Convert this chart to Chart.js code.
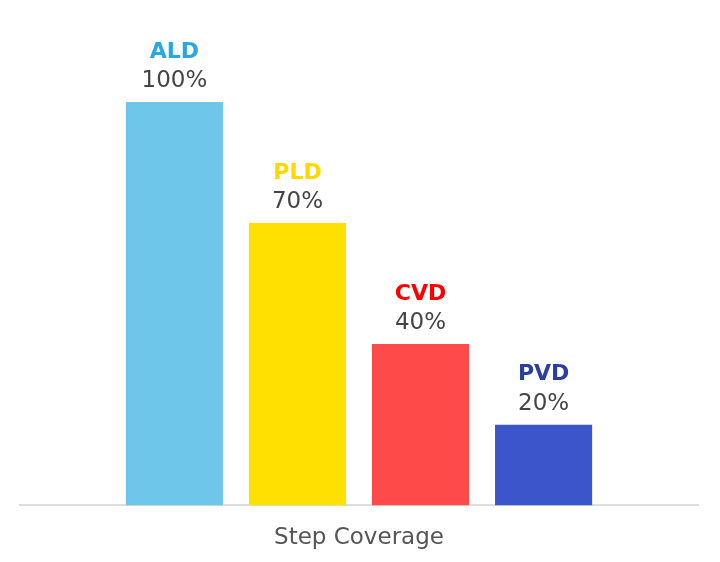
<!DOCTYPE html>
<html>
<head>
<meta charset="utf-8">
<script src="https://cdn.jsdelivr.net/npm/chart.js@4"></script>
<style>
  html, body { margin: 0; padding: 0; background: #ffffff; }
  #wrap { width: 720px; height: 562px; }
</style>
</head>
<body>
<div id="wrap"><canvas id="chart" width="720" height="562"></canvas></div>
<script>
// Deposition methods compared by step coverage
const categories = ['Step Coverage'];
const methods = ['ALD', 'PLD', 'CVD', 'PVD'];
const coverage = [100, 70, 40, 20];
const barColors = ['#6EC6EA', '#FFE000', '#FF4A4A', '#3B56CB'];
const nameColors = ['#29A8E0', '#FFD800', '#FF0000', '#2A3FA0'];

const datasets = methods.map((m, i) => ({
  label: m,
  data: [coverage[i]],
  backgroundColor: barColors[i],
  borderWidth: 0,
  categoryPercentage: 0.726,
  barPercentage: 0.789
}));

// Draws the method name and its percentage above each bar
const barLabels = {
  id: 'barLabels',
  afterDatasetsDraw(chart) {
    const ctx = chart.ctx;
    ctx.save();
    ctx.textAlign = 'center';
    ctx.textBaseline = 'middle';
    chart.data.datasets.forEach((ds, i) => {
      const meta = chart.getDatasetMeta(i);
      meta.data.forEach((bar, j) => {
        const v = ds.data[j];
        ctx.font = 'bold 22px "DejaVu Sans", Verdana, sans-serif';
        ctx.fillStyle = nameColors[i];
        ctx.fillText(ds.label, bar.x, bar.y - 50);
        ctx.font = '23px "DejaVu Sans", Verdana, sans-serif';
        ctx.fillStyle = '#444444';
        ctx.fillText(v + '%', bar.x, bar.y - 21);
      });
    });
    ctx.restore();
  }
};

new Chart(document.getElementById('chart'), {
  type: 'bar',
  data: { labels: categories, datasets: datasets },
  options: {
    responsive: false,
    animation: false,
    layout: { padding: { left: 20, right: 22, top: 102, bottom: -9 } },
    plugins: {
      legend: { display: false },
      tooltip: { enabled: false }
    },
    scales: {
      x: {
        grid: { display: false, drawTicks: false },
        border: { display: true, color: '#DDDDDD', width: 2 },
        ticks: {
          color: '#555555',
          padding: 19,
          font: { family: '"DejaVu Sans", Verdana, sans-serif', size: 23 }
        }
      },
      y: {
        display: false,
        min: 0,
        max: 100
      }
    }
  },
  plugins: [barLabels]
});
</script>
</body>
</html>
